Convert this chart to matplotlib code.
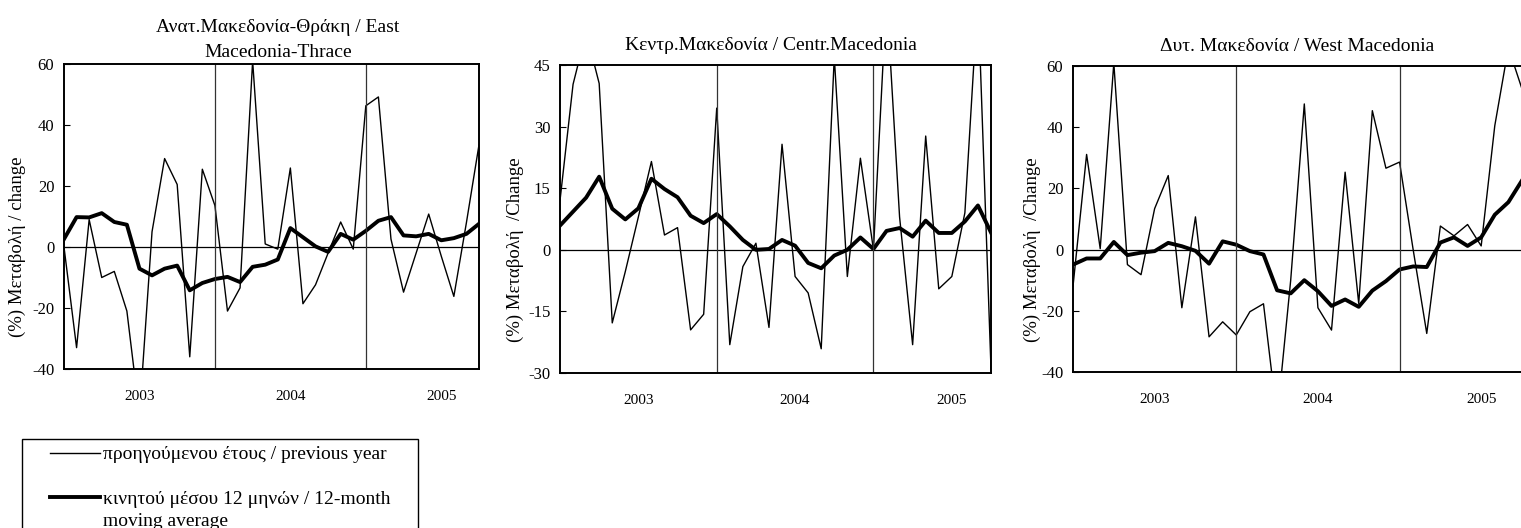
import numpy as np
import matplotlib
matplotlib.use('Agg')
import matplotlib.pyplot as plt
from matplotlib.legend_handler import HandlerLine2D

plt.rcParams.update({'font.size': 12, 'font.family': ['Liberation Serif', 'DejaVu Serif']})
plt.rcParams['axes.unicode_minus'] = False

# monthly index, Jan 2003 .. Oct 2005
months = np.arange(34)
year_pos = [6, 18, 30]
year_labels = ['2003', '2004', '2005']
year_breaks = [12, 24]

# % change on previous year / 12-month moving average
east_prev = [0, -33, 9, -10, -8, -21, -55, 5, 29, 20.5, -36, 25.5, 13.6, -21, -13.4, 61, 1, -0.7,
             25.9, -18.6, -12.4, -2, 8.2, -0.7, 46.3, 49.2, 2.6, -14.8, -2, 10.8, -3, -16.2, 8, 33.5]
east_ma = [2.6, 9.8, 9.7, 11.1, 8.2, 7.3, -7.1, -9.3, -7.1, -6.1, -14.2, -11.8, -10.5, -9.8, -11.5, -6.5,
           -5.8, -4.1, 6.2, 3.2, 0.2, -1.6, 4.3, 2.4, 5.3, 8.6, 9.8, 3.8, 3.5, 4.3, 2.2, 2.9, 4.3, 7.6]
central_prev = [12, 40.3, 53, 40.5, -17.8, -5.3, 8, 21.5, 3.6, 5.4, -19.5, -15.7, 34.5, -23.1, -4.1, 1.6,
                -18.9, 25.7, -6.5, -10.5, -24.1, 47, -6.5, 22.3, 0, 62, 8, -23.1, 27.7, -9.5, -6.5, 9, 62, -29]
central_ma = [5.9, 9.3, 12.7, 17.8, 10, 7.4, 10.1, 17.3, 14.8, 12.8, 8.3, 6.5, 8.7, 5.7, 2.4, 0, 0.2, 2.4,
              1, -3.2, -4.5, -1.4, 0, 3, 0.2, 4.6, 5.3, 3.2, 7.1, 4.1, 4.1, 6.9, 10.8, 4.2]
west_prev = [-12, 31.1, 0.3, 61, -4.9, -8.2, 13.4, 24.2, -19, 10.7, -28.5, -23.6, -27.9, -20.3, -17.7, -55,
             -10, 47.6, -19, -26.3, 25.3, -17.6, 45.4, 26.6, 28.6, 0, -27.4, 7.7, 4.5, 8.2, 1.2, 40.5, 66, 52.5]
west_ma = [-4.9, -2.9, -2.9, 2.5, -1.8, -1, -0.5, 2.2, 1.1, -0.4, -4.6, 2.7, 1.6, -0.5, -1.6, -13.3, -14.3,
           -10, -13.6, -18.4, -16.3, -18.7, -13.4, -10.3, -6.5, -5.5, -5.7, 2.3, 4, 1.2, 4, 11.4, 15.5, 22.6]

titles = ['Ανατ.Μακεδονία-Θράκη / East\nMacedonia-Thrace',
          'Κεντρ.Μακεδονία / Centr.Macedonia',
          'Δυτ. Μακεδονία / West Macedonia']
ylabels = ['(%) Μεταβολή / change', '(%) Μεταβολή  /Change', '(%) Μεταβολή  /Change']
ylims = [(-40, 60), (-30, 45), (-40, 60)]
yticks = [np.arange(-40, 61, 20), np.arange(-30, 46, 15), np.arange(-40, 61, 20)]
legend_labels = ['προηγούμενου έτους / previous year',
                 'κινητού μέσου 12 μηνών / 12-month\nmoving average']


class ShiftedLine(HandlerLine2D):
    # legend line that starts a bit in from the left and can sit on the first text line
    def __init__(self, xstart=0.0, yshift=0.0, **kw):
        super().__init__(**kw)
        self.xstart = xstart
        self.yshift = yshift

    def create_artists(self, legend, orig_handle, xdescent, ydescent, width, height, fontsize, trans):
        arts = super().create_artists(legend, orig_handle, xdescent, ydescent, width, height, fontsize, trans)
        for a in arts:
            x = np.asarray(a.get_xdata(), float)
            y = np.asarray(a.get_ydata(), float)
            a.set_data(np.linspace(x[0] + self.xstart, x[-1], len(x)), y + self.yshift)
        return arts


fig = plt.figure(figsize=(15.21, 5.28), dpi=100)
W, H = 1521, 528
# axes boxes in pixels: left, top, right, bottom
boxes = [(64, 64, 479, 369), (560, 65, 991, 373), (1073, 66, 1522, 372)]
title_pads = [5, 11, 11]
title_x = [0.515, 0.49, 0.5]
ylabel_x = [-0.0916, -0.0835, -0.0713]
series = [(east_prev, east_ma), (central_prev, central_ma), (west_prev, west_ma)]

axes = []
for k, (l, t, r, b) in enumerate(boxes):
    ax = fig.add_axes([l / W, 1 - b / H, (r - l) / W, (b - t) / H])
    prev, ma = series[k]
    ax.plot(months, prev, color='k', lw=1.0, label=legend_labels[0])
    ax.plot(months, ma, color='k', lw=2.8, label=legend_labels[1])
    ax.axhline(0, color='k', lw=0.9)
    for yb in year_breaks:
        ax.axvline(yb, color='#333333', lw=0.9)
    ax.set_xlim(0, 33)
    ax.set_ylim(*ylims[k])
    ax.set_yticks(yticks[k])
    ax.set_xticks(year_pos)
    ax.set_xticklabels(year_labels)
    ax.tick_params(axis='x', length=0, pad=15, labelsize=11)
    ax.tick_params(axis='y', direction='in', length=4, pad=7, labelsize=12)
    for sp in ax.spines.values():
        sp.set_linewidth(1.4)
    ax.set_title(titles[k], pad=title_pads[k], fontsize=14, x=title_x[k], linespacing=1.6)
    ax.set_ylabel(ylabels[k], fontsize=13.5)
    ax.yaxis.set_label_coords(ylabel_x[k], 0.40)
    axes.append(ax)

# legend box below the first panel
handles, labels = axes[0].get_legend_handles_labels()
leg = fig.legend(handles, labels, loc='upper left',
                 bbox_to_anchor=(22 / W, 1 - 439 / H, 396 / W, 0), mode='expand', borderaxespad=0,
                 frameon=True, fancybox=False, edgecolor='k', framealpha=1,
                 handlelength=3.66, handletextpad=0.15, borderpad=0.35, labelspacing=1.4,
                 fontsize=14,
                 handler_map={handles[0]: ShiftedLine(xstart=15.3),
                              handles[1]: ShiftedLine(xstart=15.3, yshift=9.0)})
leg.get_frame().set_linewidth(1.0)
leg.get_texts()[1].set_linespacing(1.4)

plt.savefig('out.png', dpi=100)
